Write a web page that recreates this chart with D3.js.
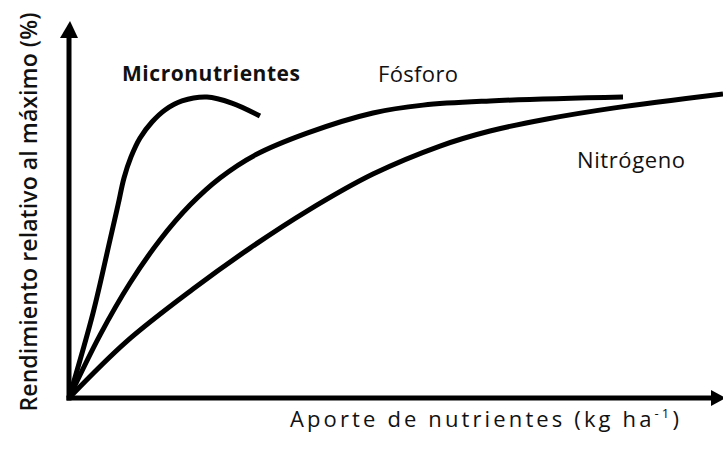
<!DOCTYPE html>
<html>
<head>
<meta charset="utf-8">
<script src="https://cdn.jsdelivr.net/npm/d3@7"></script>
<style>
  body { margin: 0; background: #fff; }
  svg { display: block; }
  text { font-family: "Open Sans", sans-serif; fill: #111; }
</style>
</head>
<body>
<svg id="chart"></svg>
<script>
// nutrient supply (relative units) vs relative yield (%)
const series = ["Micronutrientes", "Fósforo", "Nitrógeno"];

const microX = [0, 3.67, 6.27, 7.49, 8.41, 9.48, 10.86, 12.69, 14.68, 17.28, 21.1, 24.9, 29.2];
const microY = [0, 28.2, 52.5, 64.1, 73.1, 80.1, 86.4, 91.7, 95.7, 98.7, 100, 98.0, 93.7];

const fosforoX = [0, 4.74, 9.33, 13.91, 18.50, 23.09, 28.44, 36.39, 46.48, 54.13, 64.37, 84.71];
const fosforoY = [0, 20.9, 38.2, 52.5, 64.1, 73.1, 80.7, 88.0, 94.7, 97.3, 98.7, 100];

const nitrogenoX = [0, 8.87, 18.96, 27.68, 36.39, 46.48, 56.73, 64.37, 73.09, 83.18, 100];
const nitrogenoY = [0, 18.9, 36.2, 49.8, 62.1, 74.4, 83.7, 88.7, 92.7, 96.3, 101];

const width = 723, height = 450;
const x0 = 69, y0 = 398;

const svg = d3.select("#chart").attr("width", width).attr("height", height);

const x = d3.scaleLinear().domain([0, 100]).range([x0, 723]);
const y = d3.scaleLinear().domain([0, 100]).range([y0, 97]);

// axes
svg.append("line")
  .attr("x1", x0).attr("y1", y0 + 2.5)
  .attr("x2", x0).attr("y2", 34)
  .attr("stroke", "#000").attr("stroke-width", 5);
svg.append("path")
  .attr("d", `M${x0 - 9},38 L${x0 + 1},21 L${x0 + 9},38 Z`)
  .attr("fill", "#000");

svg.append("line")
  .attr("x1", x0 - 2.5).attr("y1", y0)
  .attr("x2", 714).attr("y2", y0)
  .attr("stroke", "#000").attr("stroke-width", 5);
svg.append("path")
  .attr("d", `M711,${y0 - 8} L726,${y0} L711,${y0 + 8} Z`)
  .attr("fill", "#000");

// curves
const line = d3.line()
  .x(d => x(d[0]))
  .y(d => y(d[1]))
  .curve(d3.curveCatmullRom.alpha(0.5));

const curves = [
  d3.zip(microX, microY),
  d3.zip(fosforoX, fosforoY),
  d3.zip(nitrogenoX, nitrogenoY)
];

svg.selectAll("path.curve")
  .data(curves)
  .join("path")
  .attr("class", "curve")
  .attr("d", line)
  .attr("fill", "none")
  .attr("stroke", "#000")
  .attr("stroke-width", 5)
  .attr("stroke-linejoin", "round");

// curve labels
svg.append("text").attr("x", 122).attr("y", 81)
  .attr("font-size", 21).attr("font-weight", 700)
  .attr("textLength", 178).attr("lengthAdjust", "spacing")
  .text(series[0]);
svg.append("text").attr("x", 378).attr("y", 82)
  .attr("font-size", 22)
  .attr("textLength", 80).attr("lengthAdjust", "spacing")
  .text(series[1]);
svg.append("text").attr("x", 577).attr("y", 168)
  .attr("font-size", 22)
  .attr("textLength", 108).attr("lengthAdjust", "spacing")
  .text(series[2]);

// axis titles
const xt = svg.append("text").attr("x", 290).attr("y", 427).attr("font-size", 22);
xt.append("tspan").text("Aporte de nutrientes (kg ha");
xt.append("tspan").attr("font-size", 13).attr("dy", -9).text("-1");
xt.append("tspan").attr("dy", 9).text(")");

// spread the title out to the reference width
const natural = xt.node().getComputedTextLength();
const nChars = "Aporte de nutrientes (kg ha-1)".length;
xt.attr("letter-spacing", (392 - natural) / nChars);

svg.append("text")
  .attr("transform", "translate(37,212) rotate(-90)")
  .attr("text-anchor", "middle")
  .attr("font-size", 23).attr("font-weight", 600)
  .attr("textLength", 399).attr("lengthAdjust", "spacing")
  .text("Rendimiento relativo al máximo (%)");
</script>
</body>
</html>
